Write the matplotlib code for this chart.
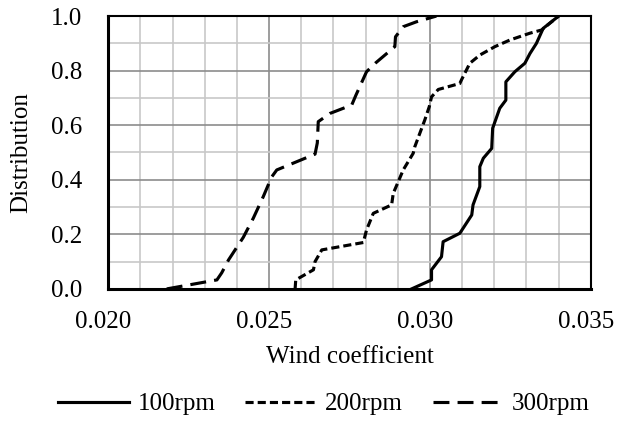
import matplotlib.pyplot as plt
import matplotlib.transforms as mtransforms
from matplotlib.ticker import MultipleLocator, FormatStrFormatter

plt.rcParams["font.family"] = ["Liberation Serif", "DejaVu Serif"]

# Cumulative distribution curves
x_100 = [0.02943, 0.03005, 0.03005, 0.03036, 0.03041, 0.03093, 0.03130, 0.03134,
         0.03155, 0.03155, 0.03166, 0.03192, 0.03195, 0.03217, 0.03236, 0.03236,
         0.03264, 0.03295, 0.03311, 0.03331, 0.03352, 0.03400]
y_100 = [0.000, 0.033, 0.070, 0.118, 0.173, 0.204, 0.271, 0.308,
         0.375, 0.448, 0.479, 0.515, 0.589, 0.662, 0.692, 0.759,
         0.796, 0.827, 0.863, 0.900, 0.955, 1.000]

x_200 = [0.02581, 0.02583, 0.02638, 0.02643, 0.02664, 0.02793, 0.02803, 0.02824,
         0.02881, 0.02886, 0.02917, 0.02948, 0.02953, 0.02984, 0.02998, 0.03005,
         0.03026, 0.03093, 0.03098, 0.03124, 0.03155, 0.03202, 0.03248, 0.03310,
         0.03347, 0.03400]
y_200 = [0.000, 0.033, 0.070, 0.100, 0.143, 0.170, 0.216, 0.277,
         0.308, 0.350, 0.436, 0.497, 0.521, 0.619, 0.668, 0.704,
         0.731, 0.753, 0.766, 0.827, 0.857, 0.888, 0.912, 0.937,
         0.949, 1.000]

x_300 = [0.02182, 0.02338, 0.02353, 0.02374, 0.02420, 0.02451, 0.02482, 0.02508,
         0.02524, 0.02643, 0.02650, 0.02653, 0.02689, 0.02757, 0.02770, 0.02803,
         0.02830, 0.02891, 0.02893, 0.02917, 0.02958, 0.03020]
y_300 = [0.000, 0.033, 0.059, 0.106, 0.189, 0.259, 0.338, 0.410,
         0.436, 0.494, 0.535, 0.613, 0.643, 0.674, 0.710, 0.796,
         0.827, 0.888, 0.924, 0.961, 0.979, 1.000]

fs = 18

fig = plt.figure(figsize=(6.18, 4.23), dpi=100)
ax = fig.add_axes([0.175, 0.317, 0.781, 0.645])

lw = 2.25
ax.plot(x_100, y_100, color="black", lw=lw, linestyle="-", label="100rpm")
ax.plot(x_200, y_200, color="black", lw=lw, linestyle=(0, (2.6, 1.3)), label="200rpm")
ax.plot(x_300, y_300, color="black", lw=lw, linestyle=(0, (5.1, 2.6)), label="300rpm")

ax.set_xlim(0.020, 0.035)
ax.set_ylim(0.0, 1.0)
ax.xaxis.set_major_locator(MultipleLocator(0.005))
ax.xaxis.set_minor_locator(MultipleLocator(0.001))
ax.yaxis.set_major_locator(MultipleLocator(0.2))
ax.yaxis.set_minor_locator(MultipleLocator(0.1))
ax.xaxis.set_major_formatter(FormatStrFormatter("%.3f"))
ax.yaxis.set_major_formatter(FormatStrFormatter("%.1f"))

ax.grid(True, which="minor", color="#c8c8c8", lw=1.2, zorder=0)
ax.grid(True, which="major", color="#8c8c8c", lw=1.2, zorder=0)
ax.set_axisbelow(True)
ax.tick_params(which="both", length=0, labelsize=fs)
ax.tick_params(axis="x", pad=16)
ax.tick_params(axis="y", pad=19)

for side in ["top", "right"]:
    ax.spines[side].set_linewidth(1.5)
for side in ["left", "bottom"]:
    ax.spines[side].set_linewidth(2.2)

ax.set_xlabel("Wind coefficient", fontsize=fs, labelpad=9)
ax.set_ylabel("Distribution", fontsize=fs, labelpad=13)

fig.legend(loc="center", bbox_to_anchor=(324 / 618, 1 - 404 / 423), ncol=3, frameon=False,
           fontsize=fs, handlelength=2.85, columnspacing=1.2, handletextpad=0.33,
           borderpad=0, borderaxespad=0)

# x tick labels sit a little left of their gridlines in the reference
fig.canvas.draw()
shift = mtransforms.ScaledTranslation(-5 / 100, 0, fig.dpi_scale_trans)
for tick in ax.xaxis.get_major_ticks():
    tick.label1.set_transform(tick.label1.get_transform() + shift)

fig.savefig("out.png", dpi=100)
